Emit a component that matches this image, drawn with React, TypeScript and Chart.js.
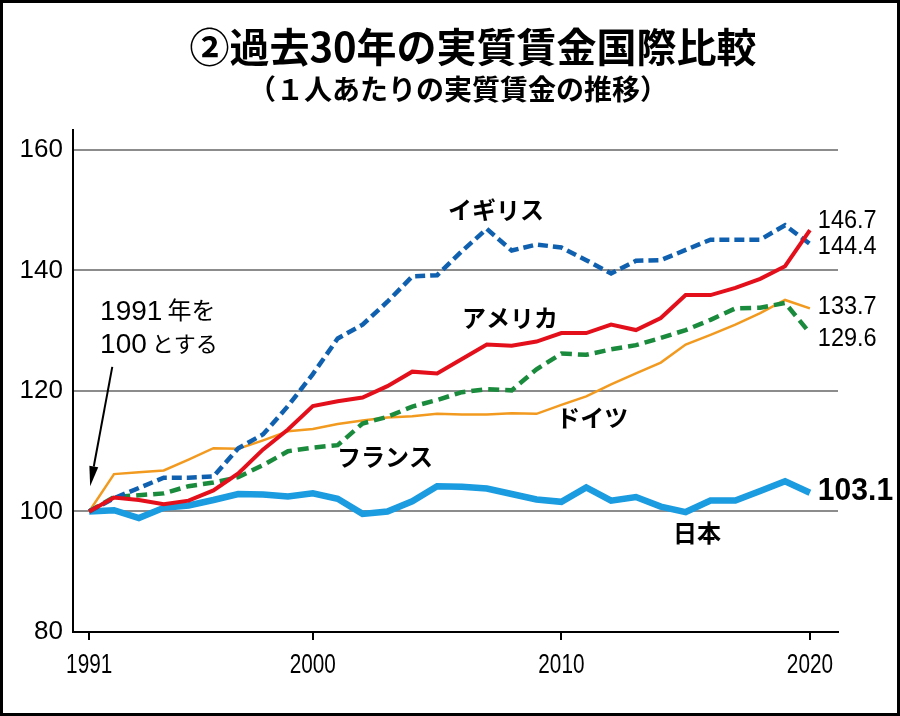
import React, { useEffect, useRef } from "react";
import { Chart, registerables } from "chart.js";

Chart.register(...registerables);

const years = [
  1991, 1992, 1993, 1994, 1995, 1996, 1997, 1998, 1999, 2000,
  2001, 2002, 2003, 2004, 2005, 2006, 2007, 2008, 2009, 2010,
  2011, 2012, 2013, 2014, 2015, 2016, 2017, 2018, 2019, 2020,
];

const japan = [
  100, 100.2, 98.9, 100.6, 101.0, 101.9, 102.9, 102.8, 102.5, 103.0,
  102.1, 99.6, 100.0, 101.7, 104.2, 104.1, 103.8, 102.9, 102.0, 101.6,
  104.0, 101.8, 102.4, 100.8, 99.9, 101.8, 101.8, 103.4, 105.0, 103.1,
];

const uk = [
  100, 102.2, 103.9, 105.6, 105.6, 105.8, 110.5, 112.8, 117.5, 122.8,
  128.7, 131.0, 134.8, 139.0, 139.2, 143.2, 146.9, 143.3, 144.3, 143.8,
  141.7, 139.5, 141.6, 141.7, 143.4, 145.1, 145.1, 145.1, 147.5, 144.4,
];

const usa = [
  100, 102.3, 101.9, 101.2, 101.8, 103.5, 106.3, 110.3, 113.6, 117.5,
  118.3, 118.9, 120.8, 123.2, 122.9, 125.3, 127.7, 127.5, 128.2, 129.6,
  129.6, 131.0, 130.1, 132.1, 135.9, 135.9, 137.1, 138.6, 140.7, 146.7,
];

const germany = [
  100, 106.2, 106.5, 106.8, 108.6, 110.5, 110.4, 111.8, 113.3, 113.7,
  114.5, 115.1, 115.6, 115.8, 116.2, 116.1, 116.1, 116.3, 116.2, 117.7,
  119.1, 121.1, 122.9, 124.7, 127.7, 129.3, 131.0, 132.9, 135.1, 133.7,
];

const france = [
  100, 102.4, 102.7, 103.0, 104.2, 104.8, 105.7, 107.7, 110.0, 110.6,
  111.0, 114.6, 115.7, 117.4, 118.5, 119.8, 120.3, 120.1, 123.6, 126.2,
  126.0, 126.9, 127.6, 128.8, 130.1, 131.8, 133.7, 133.8, 134.6, 129.6,
];

const xTicks = [1991, 2000, 2010, 2020];
const yTicks = [80, 100, 120, 140, 160];

const seriesNames = ["日本", "イギリス", "アメリカ", "ドイツ", "フランス"];
const endLabels = ["146.7", "144.4", "133.7", "129.6", "103.1"];

const TITLE = "②過去30年の実質賃金国際比較";
const SUBTITLE = "（１人あたりの実質賃金の推移）";
const NOTE_NUM = ["1991", "100"];
const NOTE_TXT = ["年を", "とする"];

const CJK = '"Noto Sans CJK JP", "Noto Sans", sans-serif';
const SANS = '"Liberation Sans", Arial, sans-serif';

const pts = (arr: number[]) => years.map((yr, i) => ({ x: yr, y: arr[i] }));

const annotPlugin = {
  id: "annot",
  afterDraw(chart: any) {
    const { ctx, chartArea } = chart;
    const xs = chart.scales.x;
    const ys = chart.scales.y;
    const px = (v: number) => xs.getPixelForValue(v);
    const py = (v: number) => ys.getPixelForValue(v);
    ctx.save();
    ctx.fillStyle = "#000";
    ctx.strokeStyle = "#000";

    // condensed x-axis tick labels
    ctx.font = `28px ${SANS}`;
    ctx.textAlign = "center";
    ctx.textBaseline = "alphabetic";
    xTicks.forEach((t) => {
      ctx.save();
      ctx.translate(px(t), chartArea.bottom + 41);
      ctx.scale(0.74, 1);
      ctx.fillText(String(t), 0, 0);
      ctx.restore();
    });

    // series name labels
    ctx.font = `bold 24px ${CJK}`;
    ctx.textAlign = "center";
    ctx.textBaseline = "middle";
    const namePos: [number, number][] = [
      [2015.46, 96.4],
      [2007.37, 150.0],
      [2007.93, 132.1],
      [2011.24, 115.5],
      [2002.9, 109.0],
    ];
    seriesNames.forEach((n, i) => {
      ctx.fillText(n, px(namePos[i][0]), py(namePos[i][1]));
    });

    // end value labels
    ctx.textAlign = "left";
    ctx.textBaseline = "alphabetic";
    const endPos = [147.1, 142.8, 132.7, 127.4, 101.9];
    endLabels.forEach((t, i) => {
      ctx.save();
      ctx.translate(px(2020.32), py(endPos[i]));
      ctx.scale(0.94, 1);
      ctx.font = i === 4 ? `bold 32px ${SANS}` : `25px ${SANS}`;
      ctx.fillText(t, 0, 0);
      ctx.restore();
    });

    // note text
    const noteY = [131.8, 126.3];
    const noteX = px(1991.44);
    NOTE_NUM.forEach((num, i) => {
      ctx.font = `28px ${SANS}`;
      const w = ctx.measureText(num).width;
      ctx.fillText(num, noteX, py(noteY[i]));
      ctx.font = `${i === 0 ? 24 : 22}px ${CJK}`;
      ctx.fillText(NOTE_TXT[i], noteX + w + 5, py(noteY[i]) - 1);
    });

    // arrow
    const x1 = px(1991.93), y1 = py(124.0);
    const x2 = px(1991.04), y2 = py(104.2);
    const ang = Math.atan2(y2 - y1, x2 - x1);
    const headLen = 20, headW = 4.5;
    const bx = x2 - headLen * Math.cos(ang);
    const by = y2 - headLen * Math.sin(ang);
    ctx.lineWidth = 2;
    ctx.beginPath();
    ctx.moveTo(x1, y1);
    ctx.lineTo(bx, by);
    ctx.stroke();
    ctx.beginPath();
    ctx.moveTo(x2, y2);
    ctx.lineTo(bx + headW * Math.sin(ang), by - headW * Math.cos(ang));
    ctx.lineTo(bx - headW * Math.sin(ang), by + headW * Math.cos(ang));
    ctx.closePath();
    ctx.fill();
    ctx.restore();
  },
};

export default function App() {
  const ref = useRef<HTMLCanvasElement | null>(null);

  useEffect(() => {
    if (!ref.current) return;
    const chart = new Chart(ref.current, {
      type: "line",
      data: {
        datasets: [
          {
            label: "アメリカ",
            data: pts(usa),
            borderColor: "#e3101c",
            borderWidth: 4,
            order: 1,
          },
          {
            label: "イギリス",
            data: pts(uk),
            borderColor: "#1060b0",
            borderWidth: 4.5,
            borderDash: [10, 5],
            order: 2,
          },
          {
            label: "フランス",
            data: pts(france),
            borderColor: "#1a8b3c",
            borderWidth: 4.5,
            borderDash: [11, 6],
            order: 3,
          },
          {
            label: "ドイツ",
            data: pts(germany),
            borderColor: "#f29a1f",
            borderWidth: 2.5,
            order: 4,
          },
          {
            label: "日本",
            data: pts(japan),
            borderColor: "#1b9be0",
            borderWidth: 6.5,
            order: 5,
          },
        ].map((d) => ({
          ...d,
          pointRadius: 0,
          tension: 0,
          fill: false,
          borderJoinStyle: "miter" as const,
          borderCapStyle: "butt" as const,
        })),
      },
      options: {
        animation: false,
        responsive: false,
        maintainAspectRatio: false,
        layout: { padding: { left: 0, top: 130, right: 62, bottom: 44 } },
        plugins: {
          legend: { display: false },
          tooltip: { enabled: false },
          title: { display: false },
        },
        scales: {
          x: {
            type: "linear",
            min: 1990.35,
            max: 2021.13,
            afterBuildTicks: (s: any) => {
              s.ticks = xTicks.map((v) => ({ value: v }));
            },
            afterFit: (s: any) => {
              s.height = 40;
            },
            ticks: {
              autoSkip: false,
              maxRotation: 0,
              color: "rgba(0,0,0,0)",
              padding: 4,
              font: { family: SANS, size: 20 },
              callback: (v: any) => String(v),
            },
            grid: {
              drawOnChartArea: false,
              drawTicks: true,
              tickLength: 8,
              color: "#000",
              lineWidth: 2,
            },
            border: { color: "#000", width: 2 },
          },
          y: {
            type: "linear",
            min: 80,
            max: 163.3,
            afterBuildTicks: (s: any) => {
              s.ticks = yTicks.map((v) => ({ value: v }));
            },
            afterFit: (s: any) => {
              s.width = 73;
            },
            ticks: {
              color: "#000",
              padding: 10,
              font: { family: SANS, size: 26 },
              callback: (v: any) => String(v),
            },
            grid: {
              drawTicks: false,
              lineWidth: 2,
              color: (c: any) =>
                c.tick && c.tick.value === 80 ? "rgba(0,0,0,0)" : "#8c8c8c",
            },
            border: { color: "#000", width: 2 },
          },
        },
      },
      plugins: [annotPlugin],
    });
    return () => chart.destroy();
  }, []);

  return (
    <div
      style={{
        position: "fixed",
        left: 0,
        top: 0,
        width: 900,
        height: 716,
        background: "#fff",
        overflow: "hidden",
      }}
    >
      <canvas
        ref={ref}
        width={900}
        height={716}
        style={{ position: "absolute", left: 0, top: 0, width: 900, height: 716 }}
      />
      <div
        style={{
          position: "absolute",
          left: 23,
          top: 23,
          width: 900,
          textAlign: "center",
          fontFamily: CJK,
          fontWeight: 700,
          fontSize: 40,
          lineHeight: "44px",
          color: "#000",
          whiteSpace: "nowrap",
        }}
      >
        {TITLE}
      </div>
      <div
        style={{
          position: "absolute",
          left: 8,
          top: 72,
          width: 900,
          textAlign: "center",
          fontFamily: CJK,
          fontWeight: 700,
          fontSize: 28,
          lineHeight: "32px",
          color: "#000",
          whiteSpace: "nowrap",
        }}
      >
        {SUBTITLE}
      </div>
      <div
        style={{
          position: "absolute",
          left: 0,
          top: 0,
          width: 900,
          height: 716,
          boxSizing: "border-box",
          border: "3px solid #000",
          pointerEvents: "none",
        }}
      />
    </div>
  );
}
